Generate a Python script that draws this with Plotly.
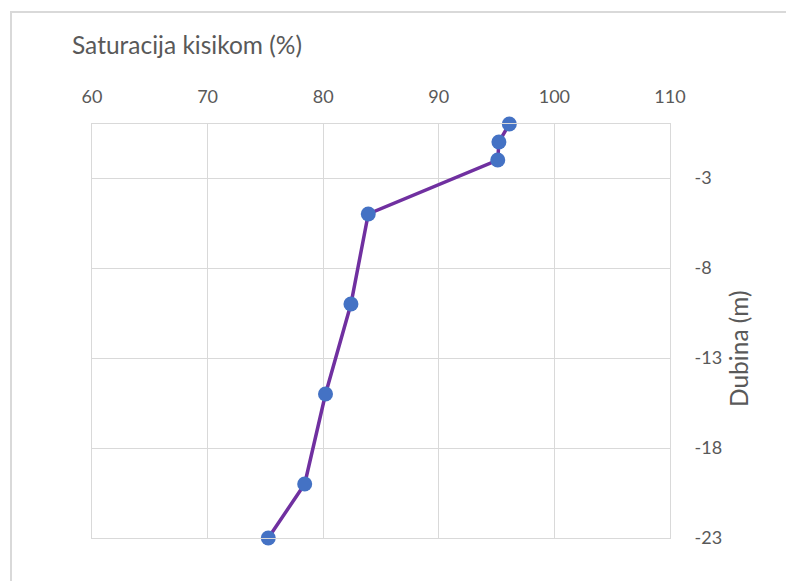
import plotly.graph_objects as go

saturacija = [96.1, 95.2, 95.1, 83.9, 82.4, 80.2, 78.4, 75.25]
dubina = [0, -1, -2, -5, -10, -15, -20, -23]
x_ticks = [60, 70, 80, 90, 100, 110]
y_ticks = [-3, -8, -13, -18, -23]
y_tick_text = ["-3", "-8", "-13", "-18", "-23"]

FONT = "Lato"
GRAY = "#595959"
GRID = "#D9D9D9"

fig = go.Figure()
fig.add_trace(go.Scatter(
    x=saturacija, y=dubina, mode="lines+markers",
    line=dict(color="#7030A0", width=3.5),
    marker=dict(color="#4472C4", size=15),
    cliponaxis=False,
    showlegend=False,
))

fig.update_layout(
    width=786, height=573,
    margin=dict(l=84, r=124, t=116, b=43),
    paper_bgcolor="white", plot_bgcolor="white",
    font=dict(family=FONT, color=GRAY, size=18),
    xaxis=dict(
        side="top", range=[60, 110], tickvals=x_ticks, ticks="",
        showgrid=True, gridcolor=GRID, gridwidth=1,
        showline=True, linecolor=GRID, mirror=True,
        zeroline=False, ticklabelstandoff=13,
        tickfont=dict(size=18, color=GRAY, family=FONT),
    ),
    yaxis=dict(
        side="right", range=[-23, 0], tickvals=y_ticks, ticktext=y_tick_text,
        ticks="", showgrid=True, gridcolor=GRID, gridwidth=1,
        showline=True, linecolor=GRID, mirror=True,
        zeroline=False, ticklabelstandoff=20,
        tickfont=dict(size=18, color=GRAY, family=FONT),
    ),
    annotations=[
        dict(text="Saturacija kisikom (%)", xref="paper", yref="paper",
             x=-0.038, y=1.193, xanchor="left", yanchor="middle",
             showarrow=False, font=dict(size=24.5, color=GRAY, family=FONT)),
        dict(text="Dubina (m)", xref="paper", yref="paper",
             x=1.1176, y=0.4565, xanchor="center", yanchor="middle", textangle=-90,
             showarrow=False, font=dict(size=24.5, color=GRAY, family=FONT)),
    ],
    shapes=[
        dict(type="path", xref="paper", yref="paper",
             path="M -0.1401,-0.2 L -0.1401,1.2705 L 1.3,1.2705",
             line=dict(color=GRID, width=2)),
    ],
)

fig.write_html("out.html")
